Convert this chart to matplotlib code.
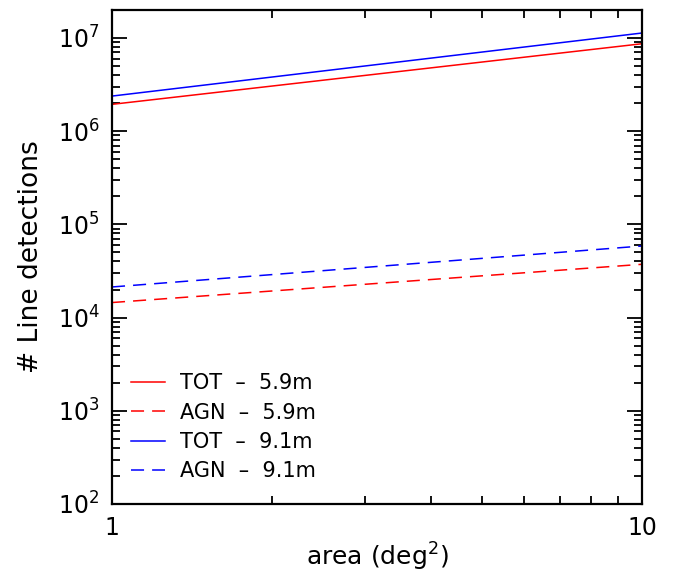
import matplotlib
matplotlib.use("Agg")
import matplotlib.pyplot as plt
import numpy as np
from matplotlib.ticker import LogLocator, NullFormatter

# detections at the two ends of the survey area range
area = [1.0, 10.0]
tot_59 = [1.94e6, 8.67e6]
agn_59 = [1.45e4, 3.73e4]
tot_91 = [2.38e6, 1.13e7]
agn_91 = [2.13e4, 5.86e4]

series = [
    ("TOT  \u2013  5.9m", tot_59, "#ff0000", "-"),
    ("AGN  \u2013  5.9m", agn_59, "#ff0000", "--"),
    ("TOT  \u2013  9.1m", tot_91, "#0000ff", "-"),
    ("AGN  \u2013  9.1m", agn_91, "#0000ff", "--"),
]

plt.rcParams["font.family"] = ["DejaVu Sans"]
plt.rcParams["mathtext.fontset"] = "dejavusans"
plt.rcParams["lines.scale_dashes"] = False

fig = plt.figure(figsize=(6.88, 5.75), dpi=100)
ax = fig.add_axes([0.1628, 0.1235, 0.7703, 0.8591])

for label, values, color, ls in series:
    line, = ax.plot(area, values, color=color, lw=1.1, label=label)
    if ls == "--":
        line.set_dashes((9.4, 5.8))

ax.set_xscale("log")
ax.set_yscale("log")
ax.set_xlim(1, 10)
ax.set_ylim(1e2, 10 ** 7.3)

ax.set_xticks([1, 10])
ax.set_xticklabels(["1", "10"])
ax.xaxis.set_minor_locator(LogLocator(base=10, subs=np.arange(2, 10)))
ax.xaxis.set_minor_formatter(NullFormatter())
ax.yaxis.set_major_locator(LogLocator(base=10, numticks=10))
ax.yaxis.set_minor_locator(LogLocator(base=10, subs=np.arange(2, 10), numticks=20))
ax.yaxis.set_minor_formatter(NullFormatter())

ax.tick_params(which="both", direction="in", top=True, right=True,
               width=1.3, labelsize=17, pad=9)
ax.tick_params(which="major", length=11)
ax.tick_params(which="minor", length=6)
for spine in ax.spines.values():
    spine.set_linewidth(1.6)

ax.set_xlabel("area (deg$^2$)", fontsize=18, labelpad=0)
ax.set_ylabel("# Line detections", fontsize=19, labelpad=10)

ax.legend(loc="lower left", bbox_to_anchor=(0.0, 0.008), frameon=False,
          fontsize=15, handlelength=1.65, handletextpad=0.7, labelspacing=0.45)

fig.savefig("out.png", dpi=100)
